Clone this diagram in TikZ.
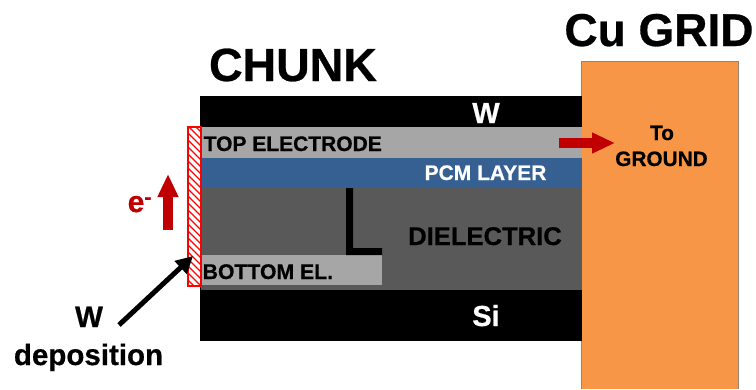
\documentclass[tikz,border=0pt]{standalone}
\usepackage{fontspec}
\setmainfont{Liberation Sans}[BoldFeatures={FakeBold=0.6}]
\usetikzlibrary{arrows.meta}
\tikzset{
  lab/.style={inner sep=0pt,font=\bfseries\fontsize{#1}{#1}\selectfont},
  redarrow/.style={draw=arrowred,line width=10pt,-{Triangle[length=23pt,width=19.5pt]}},
  blackarrow/.style={draw=black,line width=5pt,-{Triangle[length=17pt,width=17pt]}},
}
\definecolor{arrowred}{RGB}{192,0,0}
\definecolor{hatchred}{RGB}{255,0,0}
\definecolor{orangecu}{RGB}{247,150,70}
\definecolor{pcmblue}{RGB}{54,96,146}
\definecolor{diegray}{RGB}{89,89,89}
\definecolor{elgray}{RGB}{166,166,166}
\begin{document}
\begin{tikzpicture}[x=1pt,y=-1pt]
\useasboundingbox (0,0) rectangle (756,389);
% copper grid
\fill[orangecu] (581,61) rectangle (738,389);
\draw[gray!80!orangecu,line width=0.5pt] (581,389) -- (581,61) -- (738,61) -- (738,389);
% stack
\fill[black] (200,96) rectangle (582,341);
\fill[elgray] (201,127) rectangle (582,158);
\fill[pcmblue] (201,158) rectangle (582,188);
\fill[diegray] (201,188) rectangle (582,290);
\fill[elgray] (201,255) rectangle (382,285);
% L-shaped heater
\fill[black] (346,188) -- (353,188) -- (353,248) -- (382,248) -- (382,255) -- (346,255) -- cycle;
% W deposition hatch
\fill[white] (188,127) rectangle (201,286);
\begin{scope}
\clip (188,127) rectangle (201,286);
\foreach \k in {-16,-9,...,296} {
  \draw[hatchred,line width=1.4pt] (186,\k) -- (204,\k+18);
}
\end{scope}
\draw[hatchred,line width=1.2pt] (188,127) rectangle (201,286);
% labels
\node[lab=46.5,anchor=base] (chunk) at (293,81) {CHUNK};
\node[lab=46,anchor=base] (cugrid) at (659,46) {Cu GRID};
\node[lab=29,anchor=base,text=white] (w) at (486,123) {W};
\node[lab=29,anchor=base,text=white] (si) at (486,326) {Si};
\node[lab=21,anchor=base west] (top) at (203.5,151) {TOP ELECTRODE};
\node[lab=21,anchor=base,text=white] (pcm) at (485.5,180) {PCM LAYER};
\node[lab=25.6,anchor=base] (die) at (485,245) {DIELECTRIC};
\node[lab=21.2,anchor=base west] (bot) at (202.5,279) {BOTTOM EL.};
\node[lab=20.8,anchor=base] (to) at (662,140) {To};
\node[lab=20.8,anchor=base] (ground) at (661.5,166) {GROUND};
\node[lab=29.5,anchor=base] (wd) at (89,327) {W};
\node[lab=29.5,anchor=base] (dep) at (88.5,365) {deposition};
\node[lab=30,anchor=base west,text=arrowred] (elec) at (127.5,212) {e\raisebox{8pt}{\fontsize{21}{21}\selectfont -}};
% arrows
\coordinate (a1) at (168,230);
\coordinate (a2) at (168,174);
\coordinate (b1) at (559,143);
\coordinate (b2) at (615,143);
\coordinate (c1) at (119,325);
\coordinate (c2) at (193,256);
\draw[redarrow] (a1) -- (a2);
\draw[redarrow] (b1) -- (b2);
\draw[blackarrow] (c1) -- (c2);
\end{tikzpicture}
\end{document}
